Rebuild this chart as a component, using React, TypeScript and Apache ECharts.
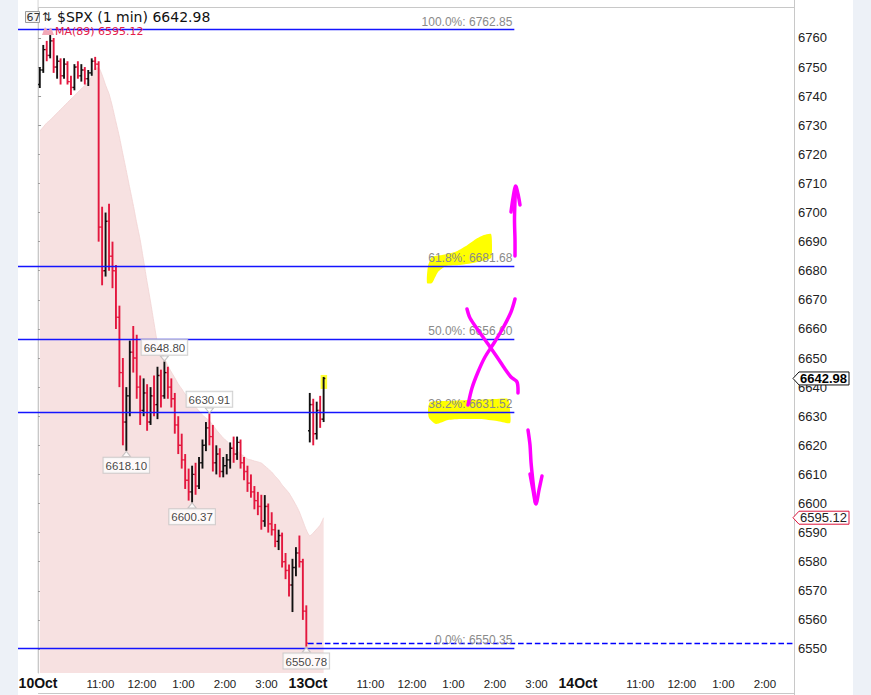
import React, { useEffect, useRef } from "react";
import * as echarts from "echarts";

// ---------- data ----------
const DAY_NAMES = ["10Oct", "13Oct", "14Oct"];
const X_LABEL_MINUTES = [0, 90, 150, 210, 270, 330, 390, 480, 540, 600, 660, 720, 780, 870, 930, 990, 1050];
const X_LABELS = ["10Oct", "11:00", "12:00", "1:00", "2:00", "3:00", "13Oct", "11:00", "12:00", "1:00", "2:00", "3:00", "14Oct", "11:00", "12:00", "1:00", "2:00"];
const Y_TICKS = [6550, 6560, 6570, 6580, 6590, 6600, 6610, 6620, 6630, 6640, 6650, 6660, 6670, 6680, 6690, 6700, 6710, 6720, 6730, 6740, 6750, 6760];

// 5-minute OHLC bars [open, high, low, close]
const OCT10_BARS = [
  [6744, 6750, 6742.8, 6749], [6749, 6757.6, 6748, 6756], [6756, 6759, 6752, 6754], [6754, 6761, 6753, 6759],
  [6759, 6760, 6748, 6750], [6750, 6754, 6746, 6752], [6752, 6753, 6744, 6747], [6747, 6753, 6746, 6751],
  [6751, 6752, 6744, 6745], [6745, 6747, 6740.4, 6743], [6743, 6751, 6742, 6750], [6750, 6752, 6746, 6747],
  [6747, 6751, 6745, 6749], [6749, 6750, 6744, 6746], [6746, 6749, 6743.5, 6748], [6748, 6753, 6747, 6752],
  [6752, 6753.5, 6749, 6751], [6751, 6752, 6690, 6695], [6695, 6702, 6675, 6680], [6680, 6700, 6678, 6697],
  [6697, 6703, 6680, 6685], [6685, 6690, 6674, 6680], [6680, 6682, 6660, 6664], [6664, 6668, 6640, 6645],
  [6645, 6650, 6620, 6628], [6628, 6640, 6618.1, 6637], [6637, 6656, 6630, 6652], [6652, 6661, 6645, 6650],
  [6650, 6658, 6636, 6640], [6640, 6644, 6627, 6632], [6632, 6643, 6630, 6638], [6638, 6641, 6625, 6628],
  [6628, 6640, 6627, 6637], [6637, 6644, 6630, 6634], [6634, 6647, 6629, 6644], [6644, 6646, 6633, 6637],
  [6637, 6648.8, 6636, 6645], [6645, 6647, 6636, 6640], [6640, 6643, 6633, 6636], [6636, 6638, 6624, 6627],
  [6627, 6630, 6617, 6620], [6620, 6624, 6612, 6615], [6615, 6617, 6605, 6608], [6608, 6612, 6601, 6604],
  [6604, 6613, 6600.37, 6610], [6610, 6614, 6603, 6606], [6606, 6616, 6605, 6614], [6614, 6622, 6612, 6620],
  [6620, 6628, 6618, 6626], [6626, 6630.91, 6620, 6623], [6623, 6627, 6611, 6614], [6614, 6620, 6610, 6617],
  [6617, 6619, 6609, 6611], [6611, 6616, 6609, 6613], [6613, 6617, 6610, 6615], [6615, 6621, 6612, 6619],
  [6619, 6623, 6614, 6617], [6617, 6623, 6615, 6621], [6621, 6622, 6612, 6614], [6614, 6616, 6608, 6611],
  [6611, 6613, 6604, 6607], [6607, 6610, 6602, 6604], [6604, 6606, 6598, 6601], [6601, 6604, 6596, 6599],
  [6599, 6603, 6591, 6594], [6594, 6602.9, 6592, 6599], [6599, 6600, 6590, 6593], [6593, 6597, 6589, 6591],
  [6591, 6593, 6585, 6587], [6587, 6591, 6584, 6589], [6589, 6590, 6578, 6580], [6580, 6583, 6574, 6577],
  [6577, 6579, 6568, 6572], [6572, 6581, 6562.7, 6578], [6578, 6585, 6575, 6583], [6583, 6589, 6578, 6580],
  [6580, 6581, 6560, 6563], [6563, 6565, 6550.78, 6552],
];
const OCT13_BARS = [
  [6625, 6638, 6621, 6634], [6634, 6636, 6620, 6624], [6624, 6635, 6622, 6632], [6632, 6637, 6626, 6629],
  [6629, 6643.5, 6628, 6642.98],
];

// MA(89) values at each bar
const MA_OCT10 = [
  6728.0, 6729.4, 6730.8, 6731.8, 6733.0, 6734.2, 6735.4, 6736.6, 6737.8, 6739.0,
  6740.1, 6741.4, 6742.5, 6743.7, 6744.9, 6746.9, 6749.7, 6749.7, 6747.3, 6743.8,
  6740.8, 6736.3, 6731.1, 6726.0, 6720.1, 6714.3, 6708.4, 6702.6, 6696.4, 6690.6,
  6683.4, 6676.1, 6669.3, 6662.0, 6655.2, 6652.8, 6650.0, 6647.3, 6645.2, 6643.2,
  6641.1, 6639.4, 6637.6, 6636.3, 6634.5, 6633.2, 6631.8, 6630.4, 6629.4, 6628.4,
  6627.0, 6625.3, 6623.9, 6622.5, 6621.5, 6620.1, 6618.7, 6618.1, 6617.0, 6616.3,
  6615.3, 6615.0, 6614.6, 6614.3, 6613.9, 6612.9, 6611.9, 6610.8, 6609.4, 6608.1,
  6606.4, 6605.0, 6603.6, 6601.6, 6599.5, 6597.1, 6594.0, 6590.9,
];
const MA_OCT13 = [6588.9, 6589.9, 6591.2, 6592.6, 6595.12];

const LAST_PRICE = 6642.98;
const LAST_MA = 6595.12;

const FIB_PCTS = ["100.0%", "61.8%", "50.0%", "38.2%", "0.0%"];
const FIB_PRICES = [6762.85, 6681.68, 6656.6, 6631.52, 6550.35];
const FIB_END_MINUTE = 688;
const DASH_LEVEL = 6552.1;
const DASH_START_MINUTE = 390;

const SWING_PRICES = [6648.8, 6630.91, 6618.1, 6600.37, 6550.78];
const SWING_BARS = [36, 49, 25, 44, 77];
const SWING_SIDES = ["top", "top", "bottom", "bottom", "bottom"];

// ---------- layout constants ----------
const X_MIN = -29;
const X_MAX = 1092;
const Y_MIN = 6541.75;
const Y_MAX = 6770.3;
const BAR_MIN = 5;
const DAY_MIN = 390;

const NARROW = '"Liberation Sans Narrow", "Arial Narrow", "Liberation Sans", sans-serif';
const SANS = '"Liberation Sans", Arial, sans-serif';
const DEJAVU = '"DejaVu Sans", Verdana, sans-serif';
const RED = "#e3173e";
const BLUE = "#1414ff";
const MAGENTA = "#ff00ff";

const barMinute = (day: number, i: number) => day * DAY_MIN + i * BAR_MIN + BAR_MIN / 2;

const allBars = [
  ...OCT10_BARS.map((b, i) => [barMinute(0, i), ...b]),
  ...OCT13_BARS.map((b, i) => [barMinute(1, i), ...b]),
];
const maPoints = [
  ...MA_OCT10.map((v, i) => [barMinute(0, i), v]),
  ...MA_OCT13.map((v, i) => [barMinute(1, i), v]),
];
const LAST_INDEX = allBars.length - 1;

function buildOption() {
  const fibLines = FIB_PRICES.map((p, i) => [
    { name: `${FIB_PCTS[i]}: ${p.toFixed(2)}`, coord: [X_MIN, p] },
    { coord: [FIB_END_MINUTE, p] },
  ]);

  const swingData = SWING_PRICES.map((p, i) => {
    const top = SWING_SIDES[i] === "top";
    return {
      value: [barMinute(0, SWING_BARS[i]), p],
      symbolRotate: top ? 180 : 0,
      symbolOffset: [0, top ? -3 : 3],
      label: { position: top ? "top" : "bottom" },
    };
  });

  return {
    animation: false,
    grid: { left: 18, right: 77, top: 8, bottom: 22, containLabel: false, outerBoundsMode: "none" },
    xAxis: {
      type: "value",
      min: X_MIN,
      max: X_MAX,
      axisLine: { show: false },
      axisTick: { show: false },
      splitLine: { show: false },
      axisLabel: {
        customValues: X_LABEL_MINUTES,
        margin: 3,
        formatter: (v: number) => {
          const idx = X_LABEL_MINUTES.indexOf(v);
          if (idx < 0) return "";
          const s = X_LABELS[idx];
          return DAY_NAMES.indexOf(s) >= 0 ? `{d|${s}}` : `{t|${s}}`;
        },
        rich: {
          d: { fontSize: 14, fontWeight: "bold", fontFamily: NARROW, color: "#111" },
          t: { fontSize: 11.5, fontFamily: NARROW, color: "#222", padding: [2, 0, 0, 0] },
        },
      },
    },
    yAxis: {
      type: "value",
      position: "right",
      min: Y_MIN,
      max: Y_MAX,
      axisLine: { show: true, lineStyle: { color: "#c8c8c8" } },
      axisTick: { show: true, customValues: Y_TICKS, length: 3, lineStyle: { color: "#999" } },
      splitLine: { show: false },
      axisLabel: {
        customValues: Y_TICKS,
        formatter: (v: number) => String(v),
        margin: 4,
        fontSize: 13,
        fontFamily: SANS,
        color: "#222",
      },
    },
    series: [
      {
        type: "line",
        name: "MA",
        data: maPoints,
        showSymbol: false,
        smooth: 0.2,
        silent: true,
        z: 1,
        lineStyle: { width: 0.8, color: "#f1d3d3" },
        areaStyle: { color: "#f7e1e1", opacity: 1 },
        markLine: {
          silent: true,
          symbol: ["none", "none"],
          z: 4,
          lineStyle: { color: "#0000ff", width: 1.4, type: "dashed", dashOffset: 0 },
          label: { show: false },
          data: [[{ coord: [DASH_START_MINUTE, DASH_LEVEL] }, { coord: [X_MAX, DASH_LEVEL] }]],
        },
      },
      {
        type: "custom",
        name: "SPX",
        data: allBars,
        encode: { x: 0, y: [1, 2, 3, 4] },
        z: 3,
        clip: true,
        renderItem: (params: any, api: any) => {
          const x = api.value(0);
          const o = api.value(1);
          const h = api.value(2);
          const l = api.value(3);
          const c = api.value(4);
          const ph = api.coord([x, h]);
          const pl = api.coord([x, l]);
          const po = api.coord([x, o]);
          const pc = api.coord([x, c]);
          const w = api.size([BAR_MIN, 0])[0];
          const t = Math.max(1.5, w * 0.5);
          const color = c >= o ? "#111" : RED;
          const children: any[] = [];
          if (params.dataIndex === LAST_INDEX) {
            children.push({
              type: "rect",
              shape: { x: ph[0] - 3, y: ph[1] - 2, width: 6.5, height: 14 },
              style: { fill: "#ffff33" },
            });
          }
          children.push({
            type: "line",
            shape: { x1: ph[0], y1: ph[1], x2: pl[0], y2: pl[1] },
            style: { stroke: color, lineWidth: 1.9 },
          });
          children.push({
            type: "line",
            shape: { x1: po[0] - t, y1: po[1], x2: po[0], y2: po[1] },
            style: { stroke: color, lineWidth: 1.4 },
          });
          children.push({
            type: "line",
            shape: { x1: pc[0], y1: pc[1], x2: pc[0] + t, y2: pc[1] },
            style: { stroke: color, lineWidth: 1.4 },
          });
          return { type: "group", children };
        },
      },
      {
        type: "scatter",
        name: "swings",
        data: swingData,
        symbol: "triangle",
        symbolSize: [8, 5],
        z: 5,
        silent: true,
        itemStyle: { color: "#fff", borderColor: "#b8b8b8", borderWidth: 1 },
        label: {
          show: true,
          distance: 1,
          formatter: (p: any) => p.value[1].toFixed(2),
          fontSize: 11.5,
          fontFamily: SANS,
          color: "#111",
          backgroundColor: "#fff",
          borderColor: "#c4c4c4",
          borderWidth: 1,
          padding: [2, 2, 1, 2],
          lineHeight: 12,
        },
        markLine: {
          silent: true,
          symbol: ["none", "none"],
          z: 4,
          lineStyle: { color: BLUE, width: 1.3, type: "solid" },
          label: {
            show: true,
            position: "insideEndTop",
            distance: [2, 2],
            formatter: (p: any) => p.name,
            color: "#8a8a8a",
            fontSize: 12,
            fontFamily: SANS,
          },
          data: fibLines,
        },
      },
    ],
  };
}

function buildGraphics(xPx: (v: number) => number, yPx: (v: number) => number) {
  const x0 = xPx(0);
  const yLast = yPx(LAST_PRICE);
  const yMa = yPx(LAST_MA);
  const gray = "#c8c8c8";
  const box = (y: number, stroke: string) => ({
    type: "polygon",
    z: 20,
    shape: { points: [[793, y], [799, y - 6.5], [849, y - 6.5], [849, y + 6.5], [799, y + 6.5]] },
    style: { fill: "#fff", stroke, lineWidth: 1 },
  });
  const pen = (points: number[][]) => ({
    type: "polyline",
    z: 30,
    shape: { points, smooth: 0.3 },
    style: { stroke: MAGENTA, lineWidth: 3.5, lineCap: "round", lineJoin: "round", fill: null },
  });
  return [
    // frame lines
    { type: "line", z: 0, shape: { x1: x0, y1: 7.5, x2: 794.5, y2: 7.5 }, style: { stroke: gray, lineWidth: 1 } },
    { type: "line", z: 0, shape: { x1: 794.5, y1: 0, x2: 794.5, y2: 695 }, style: { stroke: gray, lineWidth: 1 } },
    { type: "line", z: 0, shape: { x1: x0, y1: 0, x2: x0, y2: 673 }, style: { stroke: "#d4d4d4", lineWidth: 1 } },
    { type: "line", z: 0, shape: { x1: x0, y1: 693.5, x2: 794.5, y2: 693.5 }, style: { stroke: gray, lineWidth: 1 } },
    // highlighter marks
    {
      type: "polygon",
      z: 0,
      shape: {
        points: [[427, 283], [428, 266], [432, 257], [442, 255], [455, 252], [466, 246], [476, 239], [484, 235],
          [491, 234], [492, 245], [491, 258], [478, 262], [460, 265], [446, 266], [438, 272], [432, 283]],
        smooth: 0.2,
      },
      style: { fill: "#ffff00" },
    },
    {
      type: "polygon",
      z: 0,
      shape: {
        points: [[430, 402], [445, 401], [470, 400], [495, 399], [508, 399], [510, 410], [510, 423], [497, 421],
          [480, 419], [462, 419], [448, 420], [436, 424], [429, 418], [428, 410]],
        smooth: 0.2,
      },
      style: { fill: "#ffff00" },
    },
    // pen strokes
    pen([[515, 256], [515, 240], [514.5, 220], [515, 200], [515.5, 190]]),
    pen([[511, 212], [513, 198], [515.5, 186], [518, 194], [520, 205]]),
    pen([[467, 309], [470, 318], [478, 330], [488, 344], [497, 357], [505, 369], [511, 377], [517, 382], [518, 393]]),
    pen([[515, 299], [511, 312], [503, 328], [494, 343], [485, 357], [478, 372], [472, 388], [468, 405]]),
    pen([[528, 430], [530, 445], [531, 462], [533, 482], [535.5, 503]]),
    pen([[530, 474], [533, 490], [536, 504], [539, 490], [542, 476]]),
    // header
    { type: "rect", z: 20, shape: { x: 25.5, y: 11.5, width: 14, height: 11 }, style: { fill: "#f4f4f4", stroke: "#9a9a9a", lineWidth: 1 } },
    { type: "text", z: 21, x: 26.5, y: 17, style: { text: "67", fontSize: 11, fontFamily: DEJAVU, fill: "#333", verticalAlign: "middle", textVerticalAlign: "middle" } },
    { type: "text", z: 21, x: 42, y: 17, style: { text: "⇅", fontSize: 12, fontFamily: DEJAVU, fill: "#222", verticalAlign: "middle", textVerticalAlign: "middle" } },
    { type: "text", z: 21, x: 57, y: 17, style: { text: `$SPX (1 min) ${LAST_PRICE.toFixed(2)}`, fontSize: 14, fontFamily: DEJAVU, fill: "#111", verticalAlign: "middle", textVerticalAlign: "middle" } },
    { type: "polygon", z: 21, shape: { points: [[42, 35], [45, 27], [48, 31], [51, 27.5], [54, 35]] }, style: { fill: "#f2a9b8" } },
    { type: "text", z: 21, x: 55, y: 31, style: { text: `MA(89) ${LAST_MA.toFixed(2)}`, fontSize: 11, fontFamily: DEJAVU, fill: "#e3204a", verticalAlign: "middle", textVerticalAlign: "middle" } },
    // axis price tags
    box(yLast, "#111"),
    { type: "text", z: 21, x: 800, y: yLast, style: { text: LAST_PRICE.toFixed(2), fontSize: 13, fontWeight: "bold", fontFamily: SANS, fill: "#000", verticalAlign: "middle", textVerticalAlign: "middle" } },
    box(yMa, "#dc143c"),
    { type: "text", z: 21, x: 800, y: yMa, style: { text: LAST_MA.toFixed(2), fontSize: 13, fontFamily: SANS, fill: "#222", verticalAlign: "middle", textVerticalAlign: "middle" } },
  ];
}

export default function App() {
  const ref = useRef<HTMLDivElement>(null);
  useEffect(() => {
    if (!ref.current) return;
    const chart = echarts.init(ref.current, null, { renderer: "svg" });
    chart.setOption(buildOption() as any);
    const xPx = (v: number) => chart.convertToPixel({ xAxisIndex: 0 } as any, v) as number;
    const yPx = (v: number) => chart.convertToPixel({ yAxisIndex: 0 } as any, v) as number;
    chart.setOption({ graphic: { elements: buildGraphics(xPx, yPx) } } as any);
    return () => chart.dispose();
  }, []);
  return (
    <div style={{ position: "fixed", left: 0, top: 0, width: 871, height: 695, background: "#edf1f7" }}>
      <div style={{ position: "absolute", left: 18, top: 0, width: 835, height: 695, background: "#fff" }} />
      <div ref={ref} style={{ position: "absolute", left: 0, top: 0, width: 871, height: 695 }} />
    </div>
  );
}
